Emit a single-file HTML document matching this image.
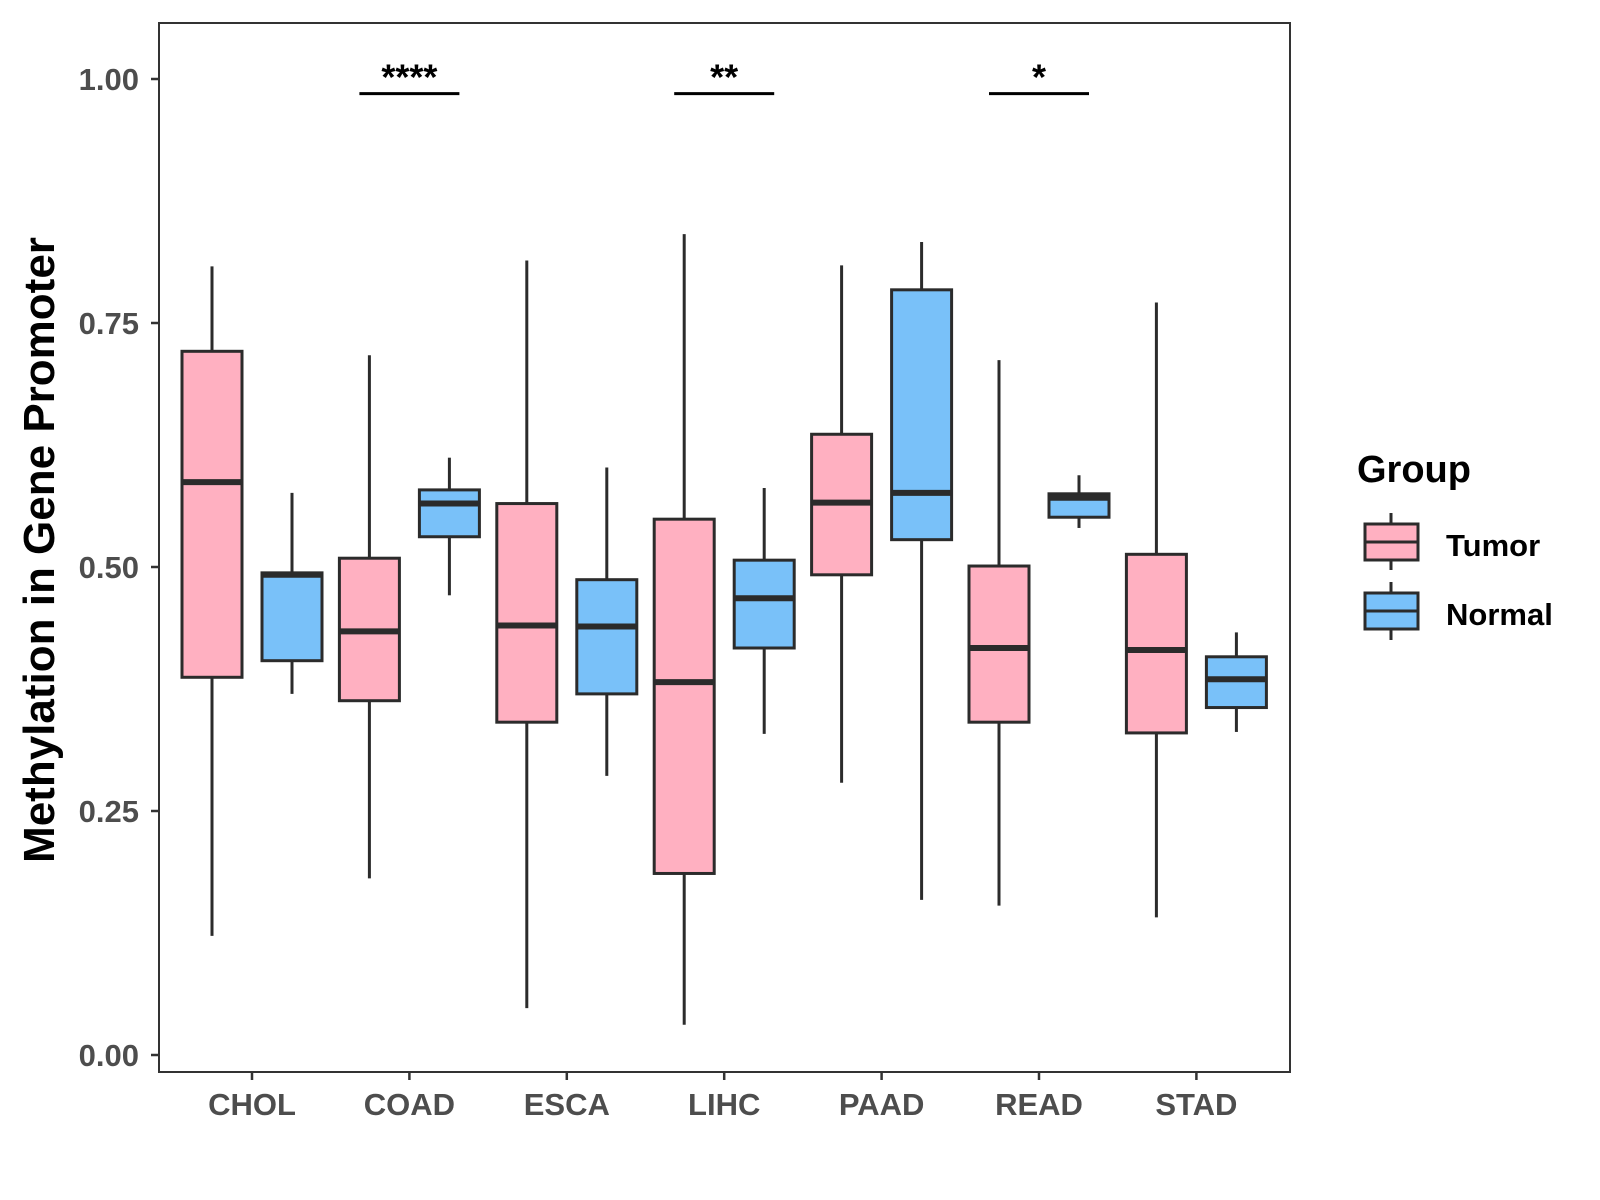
<!DOCTYPE html>
<html><head><meta charset="utf-8"><style>
html,body{margin:0;padding:0;background:#fff;}
svg{display:block;font-family:"Liberation Sans",Arial,sans-serif;}
</style></head><body>
<svg id="chart" width="1600" height="1200" viewBox="0 0 1600 1200">
<rect x="0" y="0" width="1600" height="1200" fill="#fff"/>
<g id="plot"></g>
<g id="axes"></g>
<text x="0" y="0" transform="translate(54,550) rotate(-90)" text-anchor="middle" font-size="44" font-weight="bold" fill="#000">Methylation in Gene Promoter</text>
<g>
<text x="1357" y="482" font-size="38" font-weight="bold" fill="#000">Group</text>
<g>
<line x1="1391" y1="513" x2="1391" y2="570" stroke="#2b2b2b" stroke-width="3"/>
<rect x="1365" y="524" width="53" height="36" fill="#FFB0C1" stroke="#2b2b2b" stroke-width="3"/>
<line x1="1365" y1="542" x2="1418" y2="542" stroke="#2b2b2b" stroke-width="3"/>
<text x="1446" y="556" font-size="31" font-weight="bold" fill="#000">Tumor</text>
</g>
<g>
<line x1="1391" y1="582" x2="1391" y2="640" stroke="#2b2b2b" stroke-width="3"/>
<rect x="1365" y="593" width="53" height="36" fill="#79C1F9" stroke="#2b2b2b" stroke-width="3"/>
<line x1="1365" y1="611" x2="1418" y2="611" stroke="#2b2b2b" stroke-width="3"/>
<text x="1446" y="625" font-size="31" font-weight="bold" fill="#000">Normal</text>
</g>
</g>
</svg>
<script>
const categories = ["CHOL","COAD","ESCA","LIHC","PAAD","READ","STAD"];
// [low, q1, median, q3, high]
const tumorStats = [
 [0.122,0.387,0.587,0.721,0.808],
 [0.181,0.363,0.434,0.509,0.717],
 [0.048,0.341,0.440,0.565,0.814],
 [0.031,0.186,0.382,0.549,0.841],
 [0.279,0.492,0.566,0.636,0.809],
 [0.153,0.341,0.417,0.501,0.712],
 [0.141,0.330,0.415,0.513,0.771]
];
const normalStats = [
 [0.370,0.404,0.492,0.494,0.576],
 [0.471,0.531,0.565,0.579,0.612],
 [0.286,0.370,0.439,0.487,0.602],
 [0.329,0.417,0.468,0.507,0.581],
 [0.159,0.528,0.576,0.784,0.833],
 [0.540,0.551,0.571,0.575,0.594],
 [0.331,0.356,0.385,0.408,0.433]
];
const sigCategories = ["COAD","LIHC","READ"];
const sigLabels = ["****","**","*"];
const sigLevel = 0.985;
const yTicks = [0,0.25,0.5,0.75,1.0];
const yTickLabels = ["0.00","0.25","0.50","0.75","1.00"];

const NS="http://www.w3.org/2000/svg";
const P={l:159,r:1290,t:23,b:1072};
function y(v){return 1055 - v*976;}
function x(i){return 252 + i*157.4;}
function mk(tag,attrs,parent){const e=document.createElementNS(NS,tag);for(const k in attrs)e.setAttribute(k,attrs[k]);parent.appendChild(e);return e;}
const plot=document.getElementById('plot'), axes=document.getElementById('axes');
const stroke="#2b2b2b";
function drawBox(cx,s,fill,name){
  const g=mk('g',{},plot);
  
  
  const hw=30;
  mk('line',{x1:cx,x2:cx,y1:y(s[3]),y2:y(s[4]),stroke:stroke,'stroke-width':3},g);
  mk('line',{x1:cx,x2:cx,y1:y(s[0]),y2:y(s[1]),stroke:stroke,'stroke-width':3},g);
  mk('rect',{x:cx-hw,y:y(s[3]),width:2*hw,height:y(s[1])-y(s[3]),fill:fill,stroke:stroke,'stroke-width':3},g);
  mk('line',{x1:cx-hw,x2:cx+hw,y1:y(s[2]),y2:y(s[2]),stroke:stroke,'stroke-width':6},g);
}
categories.forEach((c,i)=>{
  drawBox(x(i)-40,tumorStats[i],"#FFB0C1","box-tumor-"+c.toLowerCase());
  drawBox(x(i)+40,normalStats[i],"#79C1F9","box-normal-"+c.toLowerCase());
});
sigCategories.forEach((c,k)=>{
  const i=categories.indexOf(c);
  const g=mk('g',{},plot);
  
  
  mk('line',{x1:x(i)-50,x2:x(i)+50,y1:y(sigLevel),y2:y(sigLevel),stroke:"#000",'stroke-width':3},g);
  const t=mk('text',{x:x(i),y:y(sigLevel)-4,'text-anchor':'middle','font-size':36,'font-weight':'bold',fill:'#000'},g);
  t.textContent=sigLabels[k];
});
const border=mk('rect',{x:P.l,y:P.t,width:P.r-P.l,height:P.b-P.t,fill:'none',stroke:'#333','stroke-width':2},axes);


yTicks.forEach((v,k)=>{
  mk('line',{x1:P.l-8,x2:P.l,y1:y(v),y2:y(v),stroke:'#333','stroke-width':2.5},axes);
  const t=mk('text',{x:P.l-20,y:y(v)+11,'text-anchor':'end','font-size':31,'font-weight':'bold',fill:'#4d4d4d'},axes);
  
  
  t.textContent=yTickLabels[k];
});
categories.forEach((c,i)=>{
  mk('line',{x1:x(i),x2:x(i),y1:P.b,y2:P.b+8,stroke:'#333','stroke-width':2.5},axes);
  const t=mk('text',{x:x(i),y:1115,'text-anchor':'middle','font-size':31,'font-weight':'bold',fill:'#4d4d4d'},axes);
  
  
  t.textContent=c;
});
</script>
</body></html>
